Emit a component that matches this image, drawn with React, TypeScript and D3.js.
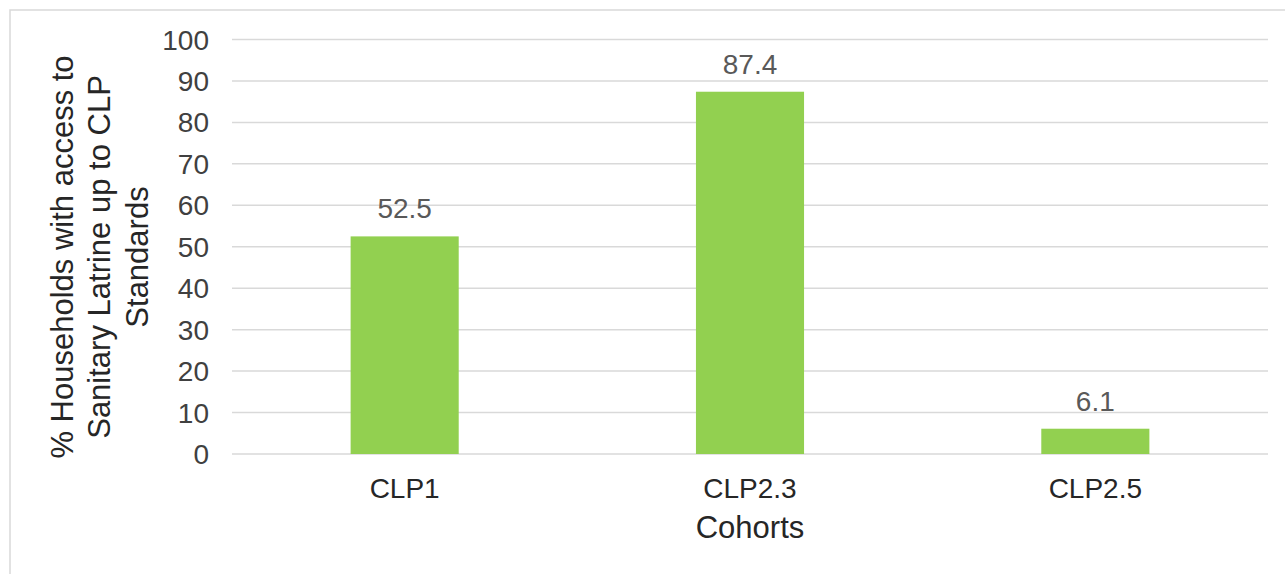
import React from "react";
import * as d3 from "d3";

const categories = ["CLP1", "CLP2.3", "CLP2.5"];
const values = [52.5, 87.4, 6.1];
const yTicks = [0, 10, 20, 30, 40, 50, 60, 70, 80, 90, 100];
const yTitleLines = ["% Households with access to", "Sanitary Latrine up to CLP", "Standards"];
const xTitle = "Cohorts";

const W = 1285;
const H = 574;
const FONT = "'Liberation Sans', Arial, sans-serif";

export default function App() {
  const x = d3
    .scaleBand<string>()
    .domain(categories)
    .range([232, 1268])
    .paddingInner(0.687)
    .paddingOuter(0.3435);
  const y = d3.scaleLinear().domain([0, 100]).range([454, 39.5]);

  const lineX = [62, 99, 137];
  const lineY = 257;

  return (
    <svg
      width={W}
      height={H}
      style={{ position: "absolute", left: 0, top: 0, background: "#fff" }}
      fontFamily={FONT}
    >
      <rect x={10} y={10} width={W} height={H} fill="#fff" stroke="#d9d9d9" strokeWidth={1.5} />
      {yTicks.map((t) => (
        <g key={t}>
          <line x1={232} x2={1268} y1={y(t)} y2={y(t)} stroke="#d9d9d9" strokeWidth={1.5} />
          <text x={209} y={y(t)} dy="0.36em" textAnchor="end" fontSize={28} fill="#404040">
            {t}
          </text>
        </g>
      ))}
      {categories.map((c, i) => (
        <g key={c}>
          <rect
            x={x(c)}
            y={y(values[i])}
            width={x.bandwidth()}
            height={y(0) - y(values[i])}
            fill="#92d050"
          />
          <text
            x={(x(c) as number) + x.bandwidth() / 2}
            y={y(values[i]) - 18}
            textAnchor="middle"
            fontSize={28}
            fill="#595959"
          >
            {values[i]}
          </text>
          <text
            x={(x(c) as number) + x.bandwidth() / 2}
            y={498}
            textAnchor="middle"
            fontSize={28}
            fill="#262626"
          >
            {c}
          </text>
        </g>
      ))}
      <text x={750} y={538} textAnchor="middle" fontSize={31} fill="#262626">
        {xTitle}
      </text>
      {yTitleLines.map((l, i) => (
        <text
          key={i}
          transform={`translate(${lineX[i]},${lineY}) rotate(-90)`}
          textAnchor="middle"
          dy="0.36em"
          fontSize={31}
          fill="#262626"
        >
          {l}
        </text>
      ))}
    </svg>
  );
}
